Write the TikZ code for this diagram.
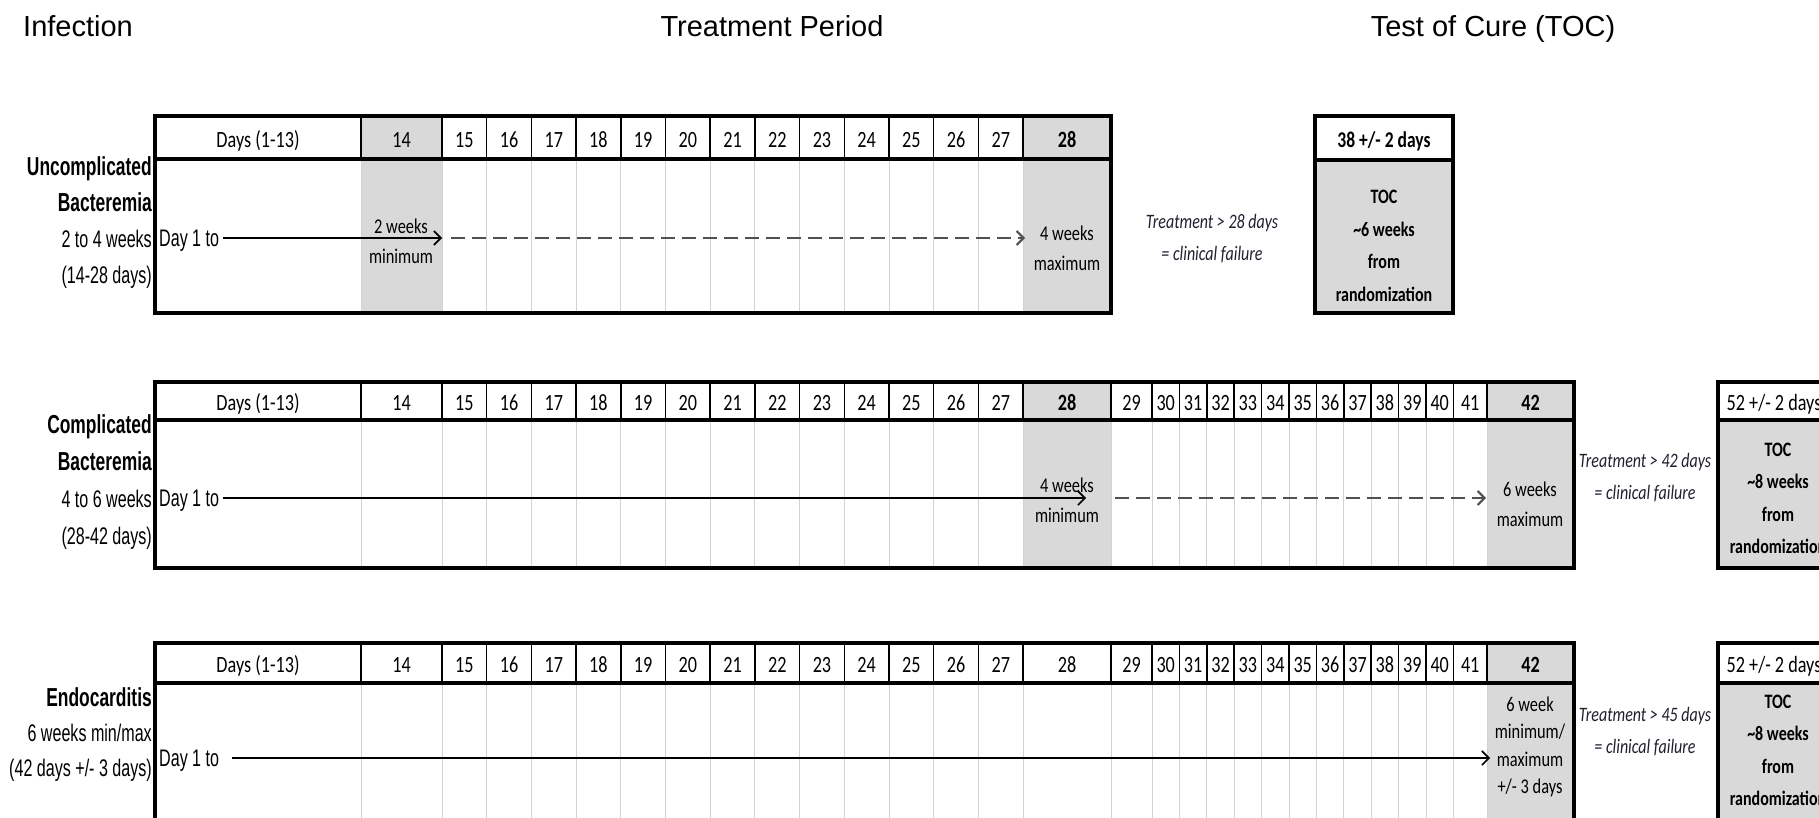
\documentclass[tikz,border=0pt]{standalone}
\usepackage{fontspec}
\setmainfont{Liberation Sans}
\newfontfamily\cali[FakeStretch=0.78]{Carlito}
\newfontfamily\narrow[FakeStretch=0.67]{Liberation Sans}
\usetikzlibrary{arrows.meta,positioning,calc}
\definecolor{Shade}{HTML}{D9D9D9}
\definecolor{Grid}{HTML}{D2D2D2}
\definecolor{DashGrey}{HTML}{505050}
\definecolor{Note}{HTML}{202030}

\begin{document}
\begin{tikzpicture}[x=1pt,y=-1pt,
  every node/.style={inner sep=0pt},
  toptitle/.style={font=\fontsize{29}{34}\selectfont,text height=21pt,text depth=0pt},
  daytxt/.style={font=\cali\fontsize{23.3}{27}\selectfont,text height=15pt,text depth=0pt},
  daybold/.style={font=\cali\bfseries\fontsize{23.3}{27}\selectfont,text height=15pt,text depth=0pt},
  cellline/.style={draw=black,line width=1.5pt},
  panelframe/.style={draw=black,line width=4pt},
  gridline/.style={draw=Grid,line width=1pt},
  sidelabel/.style={font=\narrow\fontsize{24}{36}\selectfont,align=right,anchor=east},
  notetxt/.style={font=\cali\fontsize{21}{30}\selectfont,align=center},
  failtxt/.style={font=\cali\itshape\fontsize{20.5}{32}\selectfont,align=center,text=Note},
  toctxt/.style={font=\cali\bfseries\fontsize{20.5}{32.5}\selectfont,align=center},
  starttxt/.style={font=\narrow\fontsize{24}{28}\selectfont,anchor=west,inner xsep=4pt,text height=17pt,text depth=0pt},
  arr/.style={-{Straight Barb[length=7pt,width=14pt]},line width=1.6pt},
  darr/.style={arr,line width=2pt,dash pattern=on 14pt off 7pt,color=DashGrey}
]
\clip (0,0) rectangle (1819,817);
\fill[white] (0,0) rectangle (1819,817);

% titles
\node[toptitle,anchor=west] (tinf) at (23,25.5) {Infection};
\node[toptitle] (ttreat) at (772,25.5) {Treatment Period};
\node[toptitle] (ttoc) at (1493,25.5) {Test of Cure (TOC)};

% shaded columns
\fill[Shade] (361,116) rectangle (442,313);
\fill[Shade] (1023.1,116) rectangle (1111,313);
\fill[Shade] (1023.1,382) rectangle (1111,568);
\fill[Shade] (1487,382) rectangle (1574,568);
\fill[Shade] (1487,643) rectangle (1574,829);
\fill[Shade] (1315,160) rectangle (1453,313);
\fill[Shade] (1718,420) rectangle (1856,568);
\fill[Shade] (1718,683) rectangle (1856,829);

% days 1 to 28, all panels
\foreach \pn/\ytop/\yhead/\ybot in {1/116/159/313,2/382/420/568,3/643/683/829}{
  \draw[gridline] (361,\yhead) -- (361,\ybot);
  \draw[cellline] (361,\ytop) -- (361,\yhead);
  \foreach \k in {0,...,13}{
    \draw[gridline] ({442+\k*44.7},\yhead) -- ({442+\k*44.7},\ybot);
    \draw[cellline] ({442+\k*44.7},\ytop) -- ({442+\k*44.7},\yhead);
  }
  \pgfmathsetmacro\ymid{(\ytop+\yhead)/2+2}
  \node[daytxt] (h\pn-days) at (258,\ymid) {Days (1-13)};
  \node[daytxt] (h\pn-14) at (401.5,\ymid) {14};
  \foreach \d in {15,...,27}
    \node[daytxt] (h\pn-\d) at ({464.35+(\d-15)*44.7},\ymid) {\d};
}
\node[daybold] (h1-28) at (1067,139.5) {28};
\node[daybold] (h2-28) at (1067,403) {28};
\node[daytxt] (h3-28) at (1067,665) {28};

% days 29 to 42, panels 2 and 3
\foreach \pn/\ytop/\yhead/\ybot in {2/382/420/568,3/643/683/829}{
  \draw[gridline] (1111,\yhead) -- (1111,\ybot);
  \draw[cellline] (1111,\ytop) -- (1111,\yhead);
  \draw[gridline] (1487,\yhead) -- (1487,\ybot);
  \draw[cellline] (1487,\ytop) -- (1487,\yhead);
  \foreach \k in {0,...,11}{
    \draw[gridline] ({1152+\k*27.4},\yhead) -- ({1152+\k*27.4},\ybot);
    \draw[cellline] ({1152+\k*27.4},\ytop) -- ({1152+\k*27.4},\yhead);
  }
  \pgfmathsetmacro\ymid{(\ytop+\yhead)/2+2}
  \node[daytxt] (h\pn-29) at (1131.5,\ymid) {29};
  \foreach \d in {30,...,40}
    \node[daytxt] (h\pn-\d) at ({1165.7+(\d-30)*27.4},\ymid) {\d};
  \node[daytxt] (h\pn-41) at (1470.2,\ymid) {41};
  \node[daybold] (h\pn-42) at (1530.5,\ymid) {42};
}

% frames
\draw[panelframe] (155,116) rectangle (1111,313);
\draw[panelframe] (155,159) -- (1111,159);
\draw[panelframe] (155,382) rectangle (1574,568);
\draw[panelframe] (155,420) -- (1574,420);
\draw[panelframe] (155,643) rectangle (1574,829);
\draw[panelframe] (155,683) -- (1574,683);
\draw[panelframe] (1315,116) rectangle (1453,313);
\draw[panelframe] (1315,160) -- (1453,160);
\draw[panelframe] (1718,382) rectangle (1856,568);
\draw[panelframe] (1718,420) -- (1856,420);
\draw[panelframe] (1718,643) rectangle (1856,829);
\draw[panelframe] (1718,683) -- (1856,683);

% uncomplicated bacteremia
\node[sidelabel] (ulabel) at (152,222.5) {{\bfseries\fontsize{26}{36}\selectfont Uncomplicated}\\{\bfseries\fontsize{26}{36}\selectfont Bacteremia}\\2 to 4 weeks\\(14-28 days)};
\node[starttxt] (ustart) at (155,238) {Day 1 to};
\coordinate (umin) at (442,238);
\coordinate (udash) at (451,238);
\coordinate (umax) at (1025,238);
\draw[arr] (ustart.east) -- (umin);
\draw[darr] (udash) -- (umax);
\node[notetxt] (uminlbl) at (401,241) {2 weeks\\minimum};
\node[notetxt] (umaxlbl) at (1067,248) {4 weeks\\maximum};
\node[failtxt] (ufail) at (1212,239) {Treatment > 28 days\\= clinical failure};
\node[daybold,font=\cali\bfseries\fontsize{22.5}{27}\selectfont] (utochead) at (1384,140) {38 +/- 2 days};
\node[toctxt] (utoc) at (1384,246) {TOC\\\textasciitilde6 weeks\\from\\randomization};

% complicated bacteremia
\node[sidelabel,font=\narrow\fontsize{24}{37}\selectfont] (clabel) at (152,482.5) {{\bfseries\fontsize{26}{37}\selectfont Complicated}\\{\bfseries\fontsize{26}{37}\selectfont Bacteremia}\\4 to 6 weeks\\(28-42 days)};
\node[starttxt] (cstart) at (155,498) {Day 1 to};
\coordinate (cmin) at (1086,498);
\coordinate (cdash) at (1115,498);
\coordinate (cmax) at (1486,498);
\draw[arr] (cstart.east) -- (cmin);
\draw[darr] (cdash) -- (cmax);
\node[notetxt] (cminlbl) at (1067,500) {4 weeks\\minimum};
\node[notetxt] (cmaxlbl) at (1530,504) {6 weeks\\maximum};
\node[failtxt] (cfail) at (1645,478) {Treatment > 42 days\\= clinical failure};
\node[daytxt] (ctochead) at (1774,403) {52 +/- 2 days};
\node[toctxt] (ctoc) at (1778,498.5) {TOC\\\textasciitilde8 weeks\\from\\randomization};

% endocarditis
\node[sidelabel,font=\narrow\fontsize{24}{35}\selectfont] (elabel) at (152,735) {{\bfseries\fontsize{26}{35}\selectfont Endocarditis}\\6 weeks min/max\\(42 days +/- 3 days)};
\node[starttxt] (estart) at (155,758) {Day 1 to};
\coordinate (eend) at (1490,758);
\draw[arr] ([xshift=9pt]estart.east) -- (eend);
\node[notetxt,font=\cali\fontsize{21}{27.5}\selectfont] (eendlbl) at (1530,747) {6 week\\minimum/\\maximum\\+/- 3 days};
\node[failtxt] (efail) at (1645,732) {Treatment > 45 days\\= clinical failure};
\node[daytxt] (etochead) at (1774,665) {52 +/- 2 days};
\node[toctxt] (etoc) at (1778,750.5) {TOC\\\textasciitilde8 weeks\\from\\randomization};
\end{tikzpicture}
\end{document}
